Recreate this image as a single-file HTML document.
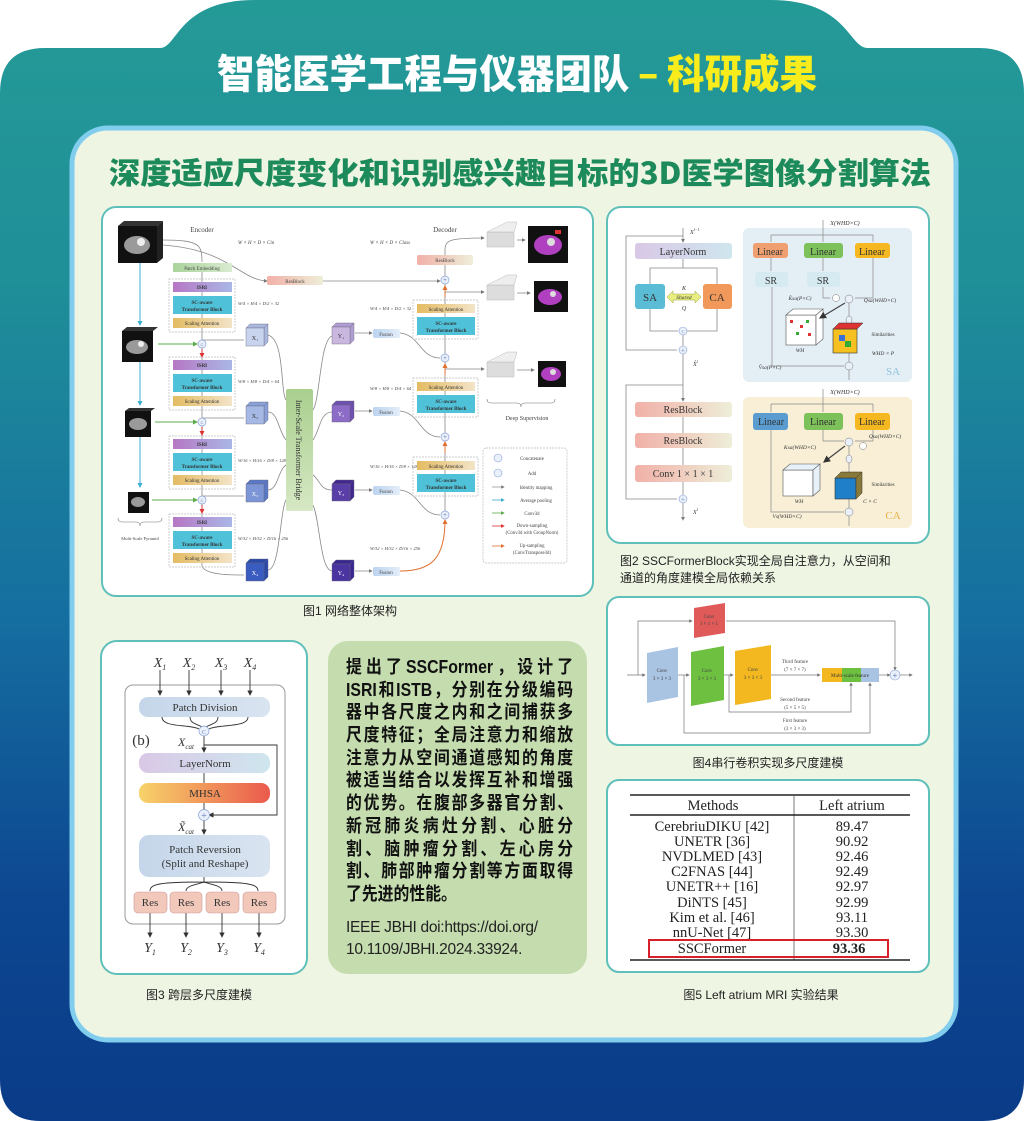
<!DOCTYPE html>
<html><head><meta charset="utf-8"><style>
html,body{margin:0;padding:0;background:#fff;}
body{width:1024px;height:1121px;position:relative;overflow:hidden;font-family:"Liberation Sans","Noto Sans CJK SC",sans-serif;}
.abs{position:absolute;}
.para div{height:22.7px;line-height:22.7px;text-align:justify;text-align-last:justify;white-space:nowrap;}
</style></head><body>
<svg class="abs" style="left:0;top:0" width="1024" height="1121" viewBox="0 0 1024 1121" xmlns="http://www.w3.org/2000/svg">
<defs>
<linearGradient id="bg" x1="0" y1="0" x2="0" y2="1">
<stop offset="0" stop-color="#249a97"/><stop offset="0.25" stop-color="#1f8f98"/>
<stop offset="0.55" stop-color="#156ea0"/><stop offset="0.8" stop-color="#0d4791"/><stop offset="1" stop-color="#0a3b88"/>
</linearGradient>
<linearGradient id="ln" x1="0" x2="1"><stop offset="0" stop-color="#d9c8e6"/><stop offset="1" stop-color="#cfe6ee"/></linearGradient>
<linearGradient id="rb" x1="0" x2="1"><stop offset="0" stop-color="#f1b0a8"/><stop offset="1" stop-color="#eeeed8"/></linearGradient>
<linearGradient id="mh" x1="0" x2="1"><stop offset="0" stop-color="#f7d36a"/><stop offset="1" stop-color="#ea5a4c"/></linearGradient>
<linearGradient id="isri" x1="0" x2="1"><stop offset="0" stop-color="#b777c4"/><stop offset="1" stop-color="#a9b7e6"/></linearGradient>
<linearGradient id="br" x1="0" x2="0" y1="0" y2="1"><stop offset="0" stop-color="#a9cf8e"/><stop offset="1" stop-color="#d6e8c4"/></linearGradient>
<linearGradient id="pe" x1="0" x2="1"><stop offset="0" stop-color="#a9d39a"/><stop offset="1" stop-color="#d9ecd0"/></linearGradient>
<linearGradient id="sa" x1="0" x2="1"><stop offset="0" stop-color="#e3bb62"/><stop offset="1" stop-color="#f3e4c8"/></linearGradient>
<linearGradient id="fu" x1="0" x2="1"><stop offset="0" stop-color="#bcd3ef"/><stop offset="1" stop-color="#e3eef9"/></linearGradient>
<linearGradient id="pr" x1="0" x2="1"><stop offset="0" stop-color="#c5d6ea"/><stop offset="1" stop-color="#d9e4f0"/></linearGradient>
<marker id="ar" markerWidth="5" markerHeight="5" refX="4" refY="2.5" orient="auto"><path d="M0,0 L5,2.5 L0,5z" fill="#777"/></marker>
<marker id="arr" markerWidth="5" markerHeight="5" refX="4" refY="2.5" orient="auto"><path d="M0,0 L5,2.5 L0,5z" fill="#d33"/></marker>
<marker id="arg" markerWidth="5" markerHeight="5" refX="4" refY="2.5" orient="auto"><path d="M0,0 L5,2.5 L0,5z" fill="#5aad4a"/></marker>
<marker id="arc" markerWidth="5" markerHeight="5" refX="4" refY="2.5" orient="auto"><path d="M0,0 L5,2.5 L0,5z" fill="#3aaed0"/></marker>
<marker id="aro" markerWidth="5" markerHeight="5" refX="4" refY="2.5" orient="auto"><path d="M0,0 L5,2.5 L0,5z" fill="#e07030"/></marker>
<marker id="ark" markerWidth="6" markerHeight="6" refX="5" refY="3" orient="auto"><path d="M0,0 L6,3 L0,6z" fill="#333"/></marker>
</defs>
<path d="M0,93 Q0,48 45,48 L160,48 C178,48 178,0 255,0 L770,0 C848,0 848,48 868,48 L979,48 Q1024,48 1024,93 L1024,1080 Q1024,1121 983,1121 L41,1121 Q0,1121 0,1080 Z" fill="url(#bg)"/>
<text x="517" y="88" text-anchor="middle" font-family="Noto Sans CJK SC,sans-serif" font-weight="900" font-size="40" fill="#fff" textLength="600" lengthAdjust="spacingAndGlyphs">智能医学工程与仪器团队 <tspan fill="#f8ec1c">– 科研成果</tspan></text>
<rect x="72" y="128" width="884" height="912" rx="36" fill="#eef5e3" stroke="#80cdee" stroke-width="5"/>
<text x="520" y="184" text-anchor="middle" font-family="Noto Sans CJK SC,sans-serif" font-weight="900" font-size="30" fill="#1d8a5c" textLength="822" lengthAdjust="spacingAndGlyphs">深度适应尺度变化和识别感兴趣目标的3D医学图像分割算法</text>

<!-- FIG1 -->
<rect x="102" y="207" width="491" height="389" rx="14" fill="#fff" stroke="#5fbfba" stroke-width="2"/>
<g font-family="Liberation Serif,serif" font-size="6" fill="#444">
<text x="202" y="232" text-anchor="middle" font-size="7">Encoder</text>
<text x="445" y="232" text-anchor="middle" font-size="7">Decoder</text>
<text x="238" y="244" font-style="italic" font-size="5">W × H × D × Cin</text>
<text x="370" y="244" font-style="italic" font-size="5">W × H × D × Class</text>
</g>
<g fill="none" stroke="#888" stroke-width="0.8">
<path d="M163,240 C200,240 202,245 202,262"/>
<path d="M202,272 L202,566"/>
<path d="M163,245 C230,250 240,280 267,281" marker-end="url(#ar)"/>
<path d="M323,281 L440,281" marker-end="url(#ar)"/>
<path d="M202,340 L244,340"/><path d="M202,418 L244,418"/><path d="M202,496 L244,496"/>
<path d="M202,566 C205,575 230,575 244,575"/>
<path d="M268,335 C285,340 280,390 286,400"/><path d="M268,412 C278,412 278,430 286,440"/>
<path d="M268,490 C278,490 278,470 286,465"/><path d="M268,570 C280,570 280,510 286,500"/>
<path d="M313,410 C320,400 320,340 332,336"/><path d="M313,440 C320,430 320,412 332,412"/>
<path d="M313,475 C320,480 320,490 332,490"/><path d="M313,505 C320,520 320,570 332,571"/>
<path d="M355,333 L372,333" marker-end="url(#ar)"/><path d="M355,411 L372,411" marker-end="url(#ar)"/>
<path d="M355,490 L372,490" marker-end="url(#ar)"/><path d="M355,571 L372,571" marker-end="url(#ar)"/>
<path d="M400,333 C420,335 420,358 440,358"/><path d="M400,411 C420,413 420,437 440,437"/>
<path d="M400,490 C420,492 420,515 440,515"/>
<path d="M445,515 L445,250"/>
<path d="M445,250 C445,240 450,238 484,238" marker-end="url(#ar)"/>
<path d="M445,292 L484,292" marker-end="url(#ar)"/><path d="M445,369 L484,369" marker-end="url(#ar)"/>
<path d="M517,240 L525,240" marker-end="url(#ar)"/><path d="M517,293 L530,293" marker-end="url(#ar)"/><path d="M517,370 L534,370" marker-end="url(#ar)"/>
</g>
<g stroke="#e07030" stroke-width="1" fill="none">
<path d="M400,571 C430,571 445,560 445,520" marker-end="url(#aro)"/>
<path d="M445,453 L445,442" marker-end="url(#aro)"/><path d="M445,375 L445,364" marker-end="url(#aro)"/><path d="M445,297 L445,286" marker-end="url(#aro)"/>
</g>
<g stroke="#3aaed0" stroke-width="1" fill="none">
<path d="M140,262 L140,325" marker-end="url(#arc)"/><path d="M140,362 L140,405" marker-end="url(#arc)"/><path d="M140,437 L140,487" marker-end="url(#arc)"/>
</g>
<g stroke="#5aad4a" stroke-width="1" fill="none">
<path d="M158,344 L197,344" marker-end="url(#arg)"/><path d="M155,422 L197,422" marker-end="url(#arg)"/><path d="M152,500 L197,500" marker-end="url(#arg)"/>
</g>
<g stroke="#d33" stroke-width="1"><path d="M202,349 L202,357" marker-end="url(#arr)"/><path d="M202,427 L202,435" marker-end="url(#arr)"/><path d="M202,505 L202,513" marker-end="url(#arr)"/></g>
<g>
<path d="M118,226 L124,221 L163,221 L157,226z" fill="#333"/><path d="M157,226 L163,221 L163,258 L157,263z" fill="#222"/>
<rect x="118" y="226" width="39" height="37" fill="#111"/><ellipse cx="137" cy="245" rx="13" ry="9" fill="#9a9a9a"/><circle cx="141" cy="242" r="4" fill="#eee"/>
<path d="M122,331 L127,327 L158,327 L153,331z" fill="#333"/><rect x="122" y="331" width="31" height="31" fill="#111"/><ellipse cx="137" cy="347" rx="11" ry="7" fill="#9a9a9a"/><circle cx="141" cy="344" r="3" fill="#eee"/>
<path d="M125,411 L129,408 L155,408 L151,411z" fill="#333"/><rect x="125" y="411" width="26" height="26" fill="#111"/><ellipse cx="138" cy="424" rx="9" ry="6" fill="#9a9a9a"/>
<rect x="128" y="492" width="21" height="21" fill="#111"/><ellipse cx="138" cy="502" rx="7" ry="5" fill="#9a9a9a"/>
<path d="M118,518 q0,4 4,4 l14,0 q4,0 4,4 q0,-4 4,-4 l14,0 q4,0 4,-4" fill="none" stroke="#777" stroke-width="0.6"/>
<text x="140" y="540" text-anchor="middle" font-size="4.5" font-family="Liberation Serif,serif" fill="#444">Multi-Scale Pyramid</text>
</g>
<rect x="173" y="263" width="59" height="9" rx="1" fill="url(#pe)"/><text x="202" y="270" text-anchor="middle" font-size="5" font-family="Liberation Serif,serif" fill="#444">Patch Embedding</text>
<g font-family="Liberation Serif,serif" font-size="5" font-weight="bold" text-anchor="middle" fill="#333">
<g id="eg"><rect x="169" y="279" width="66" height="53" fill="none" stroke="#bbb" stroke-dasharray="2,1" stroke-width="0.7"/>
<rect x="173" y="282" width="59" height="10" fill="url(#isri)"/><text x="202" y="289">ISRI</text>
<rect x="173" y="296" width="59" height="18" fill="#4fc1d8"/><text x="202" y="304">SC-aware</text><text x="202" y="311">Transformer Block</text>
<rect x="173" y="318" width="59" height="10" fill="url(#sa)"/><text x="202" y="325" font-weight="normal">Scaling Attention</text></g>
<use href="#eg" y="78"/><use href="#eg" y="157"/><use href="#eg" y="235"/>
</g>
<g font-family="Liberation Serif,serif" font-size="4.5" font-style="italic" fill="#444">
<text x="238" y="305">W/4 × H/4 × D/2 × 32</text><text x="238" y="383">W/8 × H/8 × D/4 × 64</text>
<text x="238" y="462">W/16 × H/16 × D/8 × 128</text><text x="238" y="540">W/32 × H/32 × D/16 × 256</text>
<text x="370" y="310">W/4 × H/4 × D/2 × 32</text><text x="370" y="390">W/8 × H/8 × D/4 × 64</text>
<text x="370" y="468">W/16 × H/16 × D/8 × 128</text><text x="370" y="550">W/32 × H/32 × D/16 × 256</text>
</g>
<g fill="#eaf0fa" stroke="#8aa2d6" stroke-width="0.7">
<circle cx="202" cy="344" r="4"/><circle cx="202" cy="422" r="4"/><circle cx="202" cy="500" r="4"/>
</g>
<g font-size="4" fill="#6a80c0" text-anchor="middle"><text x="202" y="346">C</text><text x="202" y="424">C</text><text x="202" y="502">C</text></g>
<g stroke="#667" stroke-width="0.4" font-family="Liberation Serif,serif" font-size="6" text-anchor="middle">
<path d="M246,328 L250,324 L268,324 L264,328z M264,328 L268,324 L268,342 L264,346z" fill="#aab8e0"/><rect x="246" y="328" width="18" height="18" fill="#c8d4ee"/><text x="255" y="340" stroke="none" fill="#333">X₁</text>
<path d="M246,406 L250,402 L268,402 L264,406z M264,406 L268,402 L268,420 L264,424z" fill="#8aa0d8"/><rect x="246" y="406" width="18" height="18" fill="#a6b8e4"/><text x="255" y="418" stroke="none" fill="#333">X₂</text>
<path d="M246,484 L250,480 L268,480 L264,484z M264,484 L268,480 L268,498 L264,502z" fill="#5a78c8"/><rect x="246" y="484" width="18" height="18" fill="#7c95d6"/><text x="255" y="496" stroke="none" fill="#fff">X₃</text>
<path d="M246,563 L250,559 L268,559 L264,563z M264,563 L268,559 L268,577 L264,581z" fill="#2a4aaa"/><rect x="246" y="563" width="18" height="18" fill="#3a5bbf"/><text x="255" y="575" stroke="none" fill="#fff">X₄</text>
<path d="M332,327 L336,323 L354,323 L350,327z M350,327 L354,323 L354,340 L350,344z" fill="#b09dd4"/><rect x="332" y="327" width="18" height="17" fill="#c9b7e0"/><text x="341" y="338" stroke="none" fill="#333">Y₁</text>
<path d="M332,405 L336,401 L354,401 L350,405z M350,405 L354,401 L354,418 L350,422z" fill="#6e50b0"/><rect x="332" y="405" width="18" height="17" fill="#8c6cc7"/><text x="341" y="416" stroke="none" fill="#fff">Y₂</text>
<path d="M332,484 L336,480 L354,480 L350,484z M350,484 L354,480 L354,497 L350,501z" fill="#42288e"/><rect x="332" y="484" width="18" height="17" fill="#5a3ea8"/><text x="341" y="495" stroke="none" fill="#fff">Y₃</text>
<path d="M332,564 L336,560 L354,560 L350,564z M350,564 L354,560 L354,577 L350,581z" fill="#3a2890"/><rect x="332" y="564" width="18" height="17" fill="#4a34a0"/><text x="341" y="575" stroke="none" fill="#fff">Y₄</text>
</g>
<rect x="286" y="389" width="27" height="122" rx="2" fill="url(#br)"/>
<text transform="translate(296,450) rotate(90)" text-anchor="middle" font-family="Liberation Serif,serif" font-size="8" fill="#333">Inter-Scale Transformer Bridge</text>
<rect x="267" y="276" width="56" height="9" rx="2" fill="url(#rb)"/><text x="295" y="283" text-anchor="middle" font-size="5" font-family="Liberation Serif,serif" fill="#444">ResBlock</text>
<rect x="417" y="255" width="56" height="10" rx="2" fill="url(#rb)"/><text x="445" y="262" text-anchor="middle" font-size="5" font-family="Liberation Serif,serif" fill="#444">ResBlock</text>
<g font-family="Liberation Serif,serif" font-size="5" text-anchor="middle" fill="#444">
<rect x="373" y="329" width="27" height="9" rx="2" fill="url(#fu)"/><text x="386" y="336">Fusion</text>
<rect x="373" y="407" width="27" height="9" rx="2" fill="url(#fu)"/><text x="386" y="414">Fusion</text>
<rect x="373" y="486" width="27" height="9" rx="2" fill="url(#fu)"/><text x="386" y="493">Fusion</text>
<rect x="373" y="567" width="27" height="9" rx="2" fill="url(#fu)"/><text x="386" y="574">Fusion</text>
</g>
<g font-family="Liberation Serif,serif" font-size="5" font-weight="bold" text-anchor="middle" fill="#333">
<g id="dg"><rect x="413" y="300" width="65" height="39" fill="none" stroke="#bbb" stroke-dasharray="2,1" stroke-width="0.7"/>
<rect x="417" y="304" width="58" height="9" fill="url(#sa)"/><text x="446" y="311" font-weight="normal">Scaling Attention</text>
<rect x="417" y="317" width="58" height="18" fill="#4fc1d8"/><text x="446" y="325">SC-aware</text><text x="446" y="332">Transformer Block</text></g>
<use href="#dg" y="78"/><use href="#dg" y="157"/>
</g>
<g fill="#eaf0fa" stroke="#8aa2d6" stroke-width="0.7"><circle cx="445" cy="280" r="4"/><circle cx="445" cy="358" r="4"/><circle cx="445" cy="437" r="4"/><circle cx="445" cy="515" r="4"/></g>
<g font-size="6" fill="#6a80c0" text-anchor="middle"><text x="445" y="282">+</text><text x="445" y="360">+</text><text x="445" y="439">+</text><text x="445" y="517">+</text></g>
<g fill="#ddd" stroke="#bbb" stroke-width="0.5">
<path d="M487,232 L514,232 L514,247 L487,247z"/><path d="M487,232 L507,222 L517,222 L514,232z" fill="#eee"/>
<path d="M487,285 L514,285 L514,300 L487,300z"/><path d="M487,285 L507,275 L517,275 L514,285z" fill="#eee"/>
<path d="M487,362 L514,362 L514,377 L487,377z"/><path d="M487,362 L507,352 L517,352 L514,362z" fill="#eee"/>
</g>
<g>
<rect x="528" y="226" width="40" height="37" fill="#111"/><ellipse cx="548" cy="245" rx="14" ry="10" fill="#b040c0"/><circle cx="551" cy="242" r="4" fill="#ddd"/><rect x="555" y="230" width="6" height="4" fill="#d33"/>
<rect x="534" y="281" width="34" height="31" fill="#111"/><ellipse cx="550" cy="297" rx="12" ry="8" fill="#b040c0"/><circle cx="553" cy="294" r="3" fill="#ddd"/>
<rect x="538" y="361" width="28" height="26" fill="#111"/><ellipse cx="551" cy="374" rx="10" ry="7" fill="#b040c0"/><circle cx="553" cy="372" r="3" fill="#ddd"/>
<path d="M487,399 q0,4 4,4 l26,0 q4,0 4,4 q0,-4 4,-4 l26,0 q4,0 4,-4" fill="none" stroke="#777" stroke-width="0.6"/>
<text x="527" y="420" text-anchor="middle" font-family="Liberation Serif,serif" font-size="6" fill="#444">Deep Supervision</text>
</g>
<rect x="483" y="448" width="84" height="115" rx="3" fill="none" stroke="#bbb" stroke-dasharray="2,1" stroke-width="0.7"/>
<g font-family="Liberation Serif,serif" font-size="4.8" fill="#444" text-anchor="middle">
<circle cx="498" cy="458" r="4" fill="#eaf0fa" stroke="#8aa2d6" stroke-width="0.6"/><text x="532" y="460">Concatenate</text>
<circle cx="498" cy="473" r="4" fill="#eaf0fa" stroke="#8aa2d6" stroke-width="0.6"/><text x="532" y="475">Add</text>
<line x1="492" y1="487" x2="504" y2="487" stroke="#888" stroke-width="0.7" marker-end="url(#ar)"/><text x="536" y="489">Identity mapping</text>
<line x1="492" y1="500" x2="504" y2="500" stroke="#3aaed0" stroke-width="0.8" marker-end="url(#arc)"/><text x="536" y="502">Average pooling</text>
<line x1="492" y1="513" x2="504" y2="513" stroke="#5aad4a" stroke-width="0.8" marker-end="url(#arg)"/><text x="532" y="515">Conv3d</text>
<line x1="492" y1="526" x2="504" y2="526" stroke="#d33" stroke-width="0.8" marker-end="url(#arr)"/><text x="532" y="527">Down-sampling</text><text x="532" y="534">(Conv3d with GroupNorm)</text>
<line x1="492" y1="546" x2="504" y2="546" stroke="#e07030" stroke-width="0.8" marker-end="url(#aro)"/><text x="532" y="547">Up-sampling</text><text x="532" y="554">(ConvTranspose3d)</text>
</g>
<text x="350" y="615" text-anchor="middle" font-size="12" fill="#222" font-family="Liberation Sans,Noto Sans CJK SC,sans-serif">图1 网络整体架构</text>

<!-- FIG2 -->
<rect x="607" y="207" width="322" height="336" rx="14" fill="#fff" stroke="#5fbfba" stroke-width="2"/>
<g fill="none" stroke="#888" stroke-width="0.8">
<path d="M683,228 L683,242" marker-end="url(#ar)"/>
<path d="M683,236 L626,236 L626,350 L677,350"/>
<path d="M683,259 L683,268 L650,268 L650,284"/><path d="M683,268 L717,268 L717,284"/>
<path d="M650,309 L650,331 L678,331"/><path d="M717,309 L717,331 L687,331"/>
<path d="M683,335 L683,346"/><path d="M683,354 L683,401" marker-end="url(#ar)"/>
<path d="M683,385 L626,385 L626,499 L677,499"/>
<path d="M683,417 L683,433"/><path d="M683,448 L683,465"/><path d="M683,482 L683,495"/>
<path d="M683,503 L683,520" marker-end="url(#ar)"/>
</g>
<g font-family="Liberation Serif,serif" fill="#333">
<text x="690" y="234" font-size="6" font-style="italic">X<tspan font-size="4" dy="-3">l−1</tspan></text>
<rect x="635" y="243" width="97" height="16" rx="3" fill="url(#ln)"/><text x="683" y="255" font-size="10" text-anchor="middle">LayerNorm</text>
<rect x="635" y="284" width="30" height="25" rx="3" fill="#5bbcd6"/><text x="650" y="301" font-size="11" text-anchor="middle">SA</text>
<rect x="703" y="284" width="29" height="25" rx="3" fill="#f0995a"/><text x="717" y="301" font-size="11" text-anchor="middle">CA</text>
<path d="M667,297 L673,291 L673,294 L695,294 L695,291 L701,297 L695,303 L695,300 L673,300 L673,303z" fill="#e8ee80" stroke="#9aa040" stroke-width="0.5"/>
<text x="684" y="299" font-size="5.5" font-style="italic" text-anchor="middle">Shared</text>
<text x="684" y="290" font-size="6" font-style="italic" text-anchor="middle">K</text><text x="684" y="310" font-size="6" font-style="italic" text-anchor="middle">Q</text>
<circle cx="683" cy="331" r="4" fill="#eaf0fa" stroke="#8aa2d6" stroke-width="0.6"/><text x="683" y="333" font-size="4.5" text-anchor="middle" fill="#6a80c0">C</text>
<circle cx="683" cy="350" r="4" fill="#eaf0fa" stroke="#8aa2d6" stroke-width="0.6"/><text x="683" y="352.5" font-size="7" text-anchor="middle" fill="#6a80c0">+</text>
<text x="693" y="366" font-size="6" font-style="italic">X̂<tspan font-size="4" dy="-3">l</tspan></text>
<rect x="635" y="402" width="97" height="15" rx="3" fill="url(#rb)"/><text x="683" y="413" font-size="10" text-anchor="middle">ResBlock</text>
<rect x="635" y="433" width="97" height="15" rx="3" fill="url(#rb)"/><text x="683" y="444" font-size="10" text-anchor="middle">ResBlock</text>
<rect x="635" y="465" width="97" height="17" rx="3" fill="url(#rb)"/><text x="683" y="477" font-size="10" text-anchor="middle">Conv 1 × 1 × 1</text>
<circle cx="683" cy="499" r="4" fill="#eaf0fa" stroke="#8aa2d6" stroke-width="0.6"/><text x="683" y="501.5" font-size="7" text-anchor="middle" fill="#6a80c0">+</text>
<text x="693" y="514" font-size="6" font-style="italic">X<tspan font-size="4" dy="-3">l</tspan></text>
</g>
<rect x="743" y="228" width="169" height="154" rx="6" fill="#e4eef5"/>
<rect x="743" y="397" width="169" height="131" rx="6" fill="#f8efd6"/>
<g fill="none" stroke="#888" stroke-width="0.7">
<path d="M823,220 L823,235 M771,235 L873,235 M771,235 L771,242 M823,235 L823,242 M873,235 L873,242"/>
<path d="M771,258 L771,271 M823,258 L823,271 M873,258 L873,298 L855,298"/>
<path d="M823,287 L823,298 L830,298 M772,287 L772,366 L844,366"/>
<path d="M849,303 L849,316 M849,324 L849,362 M849,370 L849,380"/>
<path d="M823,389 L823,404 M771,404 L873,404 M771,404 L771,412 M823,404 L823,412 M873,404 L873,412"/>
<path d="M823,430 L823,441 L844,441 M873,430 L873,441 L855,441 M771,430 L771,512 L844,512"/>
<path d="M849,446 L849,455 M849,463 L849,508 M849,516 L849,526"/>
</g>
<g font-family="Liberation Serif,serif" fill="#333" text-anchor="middle">
<text x="845" y="225" font-size="6" font-style="italic">X(WHD×C)</text>
<rect x="753" y="243" width="35" height="15" rx="3" fill="#f0a070"/><text x="770" y="255" font-size="10">Linear</text>
<rect x="804" y="243" width="39" height="15" rx="3" fill="#7cc15a"/><text x="823" y="255" font-size="10">Linear</text>
<rect x="855" y="243" width="35" height="15" rx="3" fill="#f5b820"/><text x="872" y="255" font-size="10">Linear</text>
<rect x="755" y="272" width="33" height="15" rx="3" fill="#d6eaf2"/><text x="771" y="284" font-size="10">SR</text>
<rect x="807" y="272" width="33" height="15" rx="3" fill="#d6eaf2"/><text x="823" y="284" font-size="10">SR</text>
<circle cx="849" cy="299" r="4" fill="#eaf0fa" stroke="#777" stroke-width="0.5"/>
<circle cx="836" cy="298" r="3.5" fill="#fff" stroke="#777" stroke-width="0.5"/>
<ellipse cx="849" cy="320" rx="3" ry="4" fill="#eaf0fa" stroke="#777" stroke-width="0.5"/>
<circle cx="849" cy="366" r="4" fill="#eaf0fa" stroke="#777" stroke-width="0.5"/>
<text x="800" y="300" font-size="5.5" font-style="italic">K̂sa(P×C)</text>
<text x="880" y="302" font-size="5.5" font-style="italic">Qsa(WHD×C)</text>
<text x="770" y="369" font-size="5.5" font-style="italic">V̂sa(P×C)</text>
<text x="893" y="375" font-size="11" fill="#8fc3dd">SA</text>
<rect x="786" y="315" width="30" height="30" fill="#fff" stroke="#555" stroke-width="0.6"/>
<path d="M786,315 L793,309 L823,309 L816,315z M816,315 L823,309 L823,339 L816,345z" fill="#fff" stroke="#555" stroke-width="0.6"/>
<g fill="#d33"><rect x="790" y="320" width="3" height="3"/><rect x="800" y="325" width="3" height="3"/><rect x="808" y="333" width="3" height="3"/></g>
<g fill="#3a3"><rect x="796" y="332" width="3" height="3"/><rect x="806" y="320" width="3" height="3"/></g>
<text x="800" y="352" font-size="5.5" font-style="italic">WH</text>
<rect x="833" y="329" width="24" height="24" fill="#f5c020" stroke="#333" stroke-width="0.6"/>
<path d="M833,329 L839,323 L863,323 L857,329z" fill="#d33" stroke="#333" stroke-width="0.5"/>
<rect x="839" y="335" width="6" height="6" fill="#3a6fd8"/><rect x="845" y="341" width="6" height="6" fill="#3a3"/>
<text x="883" y="336" font-size="5">Similarities</text>
<text x="883" y="355" font-size="5.5" font-style="italic">WHD × P</text>
<line x1="845" y1="303" x2="820" y2="318" stroke="#444" stroke-width="1.2" marker-end="url(#ark)"/>
<text x="845" y="394" font-size="6" font-style="italic">X(WHD×C)</text>
<rect x="753" y="413" width="35" height="17" rx="3" fill="#5a9bd0"/><text x="771" y="425" font-size="10">Linear</text>
<rect x="804" y="413" width="39" height="17" rx="3" fill="#7cc15a"/><text x="823" y="425" font-size="10">Linear</text>
<rect x="855" y="413" width="35" height="17" rx="3" fill="#f5b820"/><text x="872" y="425" font-size="10">Linear</text>
<circle cx="849" cy="442" r="4" fill="#eaf0fa" stroke="#777" stroke-width="0.5"/>
<circle cx="863" cy="446" r="3.5" fill="#fff" stroke="#777" stroke-width="0.5"/>
<ellipse cx="849" cy="459" rx="3" ry="4" fill="#eaf0fa" stroke="#777" stroke-width="0.5"/>
<circle cx="849" cy="512" r="4" fill="#eaf0fa" stroke="#777" stroke-width="0.5"/>
<text x="800" y="449" font-size="5.5" font-style="italic">Ksa(WHD×C)</text>
<text x="885" y="438" font-size="5.5" font-style="italic">Qsa(WHD×C)</text>
<text x="787" y="518" font-size="5.5" font-style="italic">Vs(WHD×C)</text>
<text x="893" y="519" font-size="11" fill="#e8b24a">CA</text>
<rect x="783" y="470" width="30" height="26" fill="#fff" stroke="#555" stroke-width="0.6"/>
<path d="M783,470 L790,464 L820,464 L813,470z M813,470 L820,464 L820,490 L813,496z" fill="#e8f1f8" stroke="#555" stroke-width="0.6"/>
<text x="799" y="503" font-size="5.5" font-style="italic">WH</text>
<rect x="835" y="478" width="21" height="21" fill="#1f7fc8" stroke="#333" stroke-width="0.6"/>
<path d="M835,478 L841,472 L862,472 L856,478z M856,478 L862,472 L862,493 L856,499z" fill="#8a7a3a" stroke="#333" stroke-width="0.5"/>
<text x="883" y="486" font-size="5">Similarities</text>
<text x="870" y="503" font-size="5.5" font-style="italic">C × C</text>
<line x1="845" y1="446" x2="824" y2="462" stroke="#444" stroke-width="1.2" marker-end="url(#ark)"/>
</g>
<g font-size="12" fill="#222" font-family="Liberation Sans,Noto Sans CJK SC,sans-serif">
<text x="620" y="565">图2 SSCFormerBlock实现全局自注意力，从空间和</text>
<text x="620" y="582">通道的角度建模全局依赖关系</text>
</g>

<!-- FIG4 -->
<rect x="607" y="597" width="322" height="148" rx="12" fill="#fff" stroke="#5fbfba" stroke-width="2"/>
<g fill="none" stroke="#777" stroke-width="0.7">
<path d="M627,675 L645,675" marker-end="url(#ar)"/>
<path d="M638,675 L638,621 L692,621" marker-end="url(#ar)"/><path d="M726,621 L895,621 L895,670" marker-end="url(#ar)"/>
<path d="M678,675 L689,675" marker-end="url(#ar)"/><path d="M724,675 L733,675" marker-end="url(#ar)"/>
<path d="M771,675 L820,675" marker-end="url(#ar)"/>
<path d="M879,675 L890,675" marker-end="url(#ar)"/><path d="M900,675 L912,675" marker-end="url(#ar)"/>
<path d="M729,675 L729,712 L851,712 L851,683" marker-end="url(#ar)"/>
<path d="M684,675 L684,733 L870,733 L870,683" marker-end="url(#ar)"/>
</g>
<polygon points="694,608 725,603 725,633 694,638" fill="#e05a5a"/>
<polygon points="647,653 678,647 678,697 647,703" fill="#a9c3e3"/>
<polygon points="691,652 724,646 724,700 691,706" fill="#6ec040"/>
<polygon points="735,651 771,645 771,699 735,705" fill="#f3b820"/>
<g font-family="Liberation Serif,serif" font-size="5" fill="#444" text-anchor="middle">
<text x="709" y="618">Conv</text><text x="709" y="625">1 × 1 × 1</text>
<text x="662" y="672">Conv</text><text x="662" y="680">3 × 3 × 3</text>
<text x="707" y="672">Conv</text><text x="707" y="680">3 × 3 × 3</text>
<text x="753" y="671">Conv</text><text x="753" y="679">3 × 3 × 3</text>
<text x="795" y="663">Third feature</text><text x="795" y="671">(7 × 7 × 7)</text>
<text x="795" y="701">Second feature</text><text x="795" y="709">(5 × 5 × 5)</text>
<text x="795" y="722">First feature</text><text x="795" y="730">(3 × 3 × 3)</text>
</g>
<rect x="822" y="668" width="20" height="14" fill="#f3b820"/><rect x="842" y="668" width="19" height="14" fill="#6ec040"/><rect x="861" y="668" width="18" height="14" fill="#a9c3e3"/>
<text x="850" y="677" text-anchor="middle" font-family="Liberation Serif,serif" font-size="5" fill="#333">Multi-scale feature</text>
<circle cx="895" cy="675" r="5" fill="#eaf0fa" stroke="#8aa2d6" stroke-width="0.6"/><text x="895" y="678" font-size="8" text-anchor="middle" fill="#6a80c0">+</text>
<text x="768" y="767" text-anchor="middle" font-size="12" fill="#222" font-family="Liberation Sans,Noto Sans CJK SC,sans-serif">图4串行卷积实现多尺度建模</text>

<!-- FIG5 -->
<rect x="607" y="780" width="322" height="192" rx="12" fill="#fff" stroke="#5fbfba" stroke-width="2"/>
<g font-family="Liberation Serif,serif" font-size="14.5" fill="#222" text-anchor="middle">
<line x1="630" y1="795" x2="910" y2="795" stroke="#222" stroke-width="1.5"/>
<line x1="630" y1="815" x2="910" y2="815" stroke="#222" stroke-width="1.5"/>
<line x1="630" y1="960" x2="910" y2="960" stroke="#222" stroke-width="1.5"/>
<line x1="794" y1="796" x2="794" y2="960" stroke="#222" stroke-width="0.6"/>
<text x="713" y="810">Methods</text><text x="852" y="810">Left atrium</text>
<text x="712" y="831">CerebriuDIKU [42]</text><text x="852" y="831">89.47</text>
<text x="712" y="846">UNETR [36]</text><text x="852" y="846">90.92</text>
<text x="712" y="861">NVDLMED [43]</text><text x="852" y="861">92.46</text>
<text x="712" y="876">C2FNAS [44]</text><text x="852" y="876">92.49</text>
<text x="712" y="891">UNETR++ [16]</text><text x="852" y="891">92.97</text>
<text x="712" y="907">DiNTS [45]</text><text x="852" y="907">92.99</text>
<text x="712" y="922">Kim et al. [46]</text><text x="852" y="922">93.11</text>
<text x="712" y="937">nnU-Net [47]</text><text x="852" y="937">93.30</text>
<text x="712" y="953">SSCFormer</text><text x="849" y="953" font-weight="bold">93.36</text>
<rect x="649" y="940" width="239" height="17" fill="none" stroke="#d6202a" stroke-width="2"/>
</g>
<text x="761" y="999" text-anchor="middle" font-size="12" fill="#222" font-family="Liberation Sans,Noto Sans CJK SC,sans-serif">图5 Left atrium MRI 实验结果</text>

<!-- FIG3 -->
<rect x="101" y="641" width="206" height="333" rx="16" fill="#fff" stroke="#5fbfba" stroke-width="2"/>
<rect x="125" y="685" width="160" height="239" rx="8" fill="none" stroke="#999" stroke-width="1"/>
<g fill="none" stroke="#333" stroke-width="0.9">
<path d="M160,670 L160,695" marker-end="url(#ark)"/><path d="M189,670 L189,695" marker-end="url(#ark)"/>
<path d="M221,670 L221,695" marker-end="url(#ark)"/><path d="M250,670 L250,695" marker-end="url(#ark)"/>
<path d="M162,717 C162,728 190,724 199,729"/><path d="M190,717 C190,724 198,724 202,727"/><path d="M218,717 C218,724 210,724 206,727"/><path d="M248,717 C248,728 218,724 209,729"/>
<path d="M204,735 L204,752" marker-end="url(#ark)"/>
<path d="M204,745 L277,745 L277,815 L209,815" marker-end="url(#ark)"/>
<path d="M204,773 L204,783"/><path d="M204,803 L204,810"/><path d="M204,820 L204,834" marker-end="url(#ark)"/>
<path d="M204,877 L204,883 M150,891 C150,884 160,882 204,882 C248,882 258,884 258,891 M186,891 C186,885 200,884 204,882 C208,884 222,885 222,891"/>
<path d="M150,913 L150,937" marker-end="url(#ark)"/><path d="M186,913 L186,937" marker-end="url(#ark)"/>
<path d="M222,913 L222,937" marker-end="url(#ark)"/><path d="M259,913 L259,937" marker-end="url(#ark)"/>
</g>
<g font-family="Liberation Serif,serif" fill="#333" text-anchor="middle">
<g font-size="14" font-style="italic"><text x="160" y="667">X<tspan font-size="8" dy="3">1</tspan></text><text x="189" y="667">X<tspan font-size="8" dy="3">2</tspan></text><text x="221" y="667">X<tspan font-size="8" dy="3">3</tspan></text><text x="250" y="667">X<tspan font-size="8" dy="3">4</tspan></text></g>
<rect x="139" y="697" width="131" height="20" rx="9" fill="url(#pr)"/><text x="205" y="711" font-size="11">Patch Division</text>
<circle cx="204" cy="731" r="5" fill="#eaf0fa" stroke="#8aa2d6" stroke-width="0.7"/><text x="204" y="734" font-size="6" fill="#6a80c0">C</text>
<text x="141" y="745" font-size="15">(b)</text>
<text x="186" y="746" font-size="12" font-style="italic">X<tspan font-size="7" dy="3">cat</tspan></text>
<rect x="139" y="753" width="131" height="20" rx="9" fill="url(#ln)"/><text x="205" y="767" font-size="11">LayerNorm</text>
<rect x="139" y="783" width="131" height="20" rx="9" fill="url(#mh)"/><text x="205" y="797" font-size="11">MHSA</text>
<circle cx="204" cy="815" r="5.5" fill="#eaf0fa" stroke="#8aa2d6" stroke-width="0.7"/><text x="204" y="819" font-size="10" fill="#6a80c0">+</text>
<text x="186" y="831" font-size="12" font-style="italic">X̃<tspan font-size="7" dy="3">cat</tspan></text>
<rect x="139" y="835" width="131" height="42" rx="10" fill="url(#pr)"/><text x="205" y="853" font-size="11">Patch Reversion</text><text x="205" y="867" font-size="11">(Split and Reshape)</text>
<g font-size="11"><rect x="134" y="892" width="33" height="21" rx="4" fill="#f2c8bb" stroke="#c99" stroke-width="0.6"/><text x="150" y="906">Res</text>
<rect x="170" y="892" width="32" height="21" rx="4" fill="#f2c8bb" stroke="#c99" stroke-width="0.6"/><text x="186" y="906">Res</text>
<rect x="206" y="892" width="33" height="21" rx="4" fill="#f2c8bb" stroke="#c99" stroke-width="0.6"/><text x="222" y="906">Res</text>
<rect x="243" y="892" width="33" height="21" rx="4" fill="#f2c8bb" stroke="#c99" stroke-width="0.6"/><text x="259" y="906">Res</text></g>
<g font-size="14" font-style="italic"><text x="150" y="952">Y<tspan font-size="8" dy="3">1</tspan></text><text x="186" y="952">Y<tspan font-size="8" dy="3">2</tspan></text><text x="222" y="952">Y<tspan font-size="8" dy="3">3</tspan></text><text x="259" y="952">Y<tspan font-size="8" dy="3">4</tspan></text></g>
</g>
<text x="199" y="999" text-anchor="middle" font-size="12" fill="#222" font-family="Liberation Sans,Noto Sans CJK SC,sans-serif">图3 跨层多尺度建模</text>

<rect x="328" y="641" width="259" height="333" rx="20" fill="#c4dcae"/>
</svg>
<div class="abs para" style="left:346px;top:656px;width:258px;transform:scaleX(0.88);transform-origin:0 0;font-family:'Liberation Sans','Noto Sans CJK SC',sans-serif;font-weight:bold;font-size:18px;color:#111;">
<div>提出了SSCFormer，设计了</div>
<div>ISRI和ISTB，分别在分级编码</div>
<div>器中各尺度之内和之间捕获多</div>
<div>尺度特征；全局注意力和缩放</div>
<div>注意力从空间通道感知的角度</div>
<div>被适当结合以发挥互补和增强</div>
<div>的优势。在腹部多器官分割、</div>
<div>新冠肺炎病灶分割、心脏分</div>
<div>割、脑肿瘤分割、左心房分</div>
<div>割、肺部肿瘤分割等方面取得</div>
<div style="text-align-last:left">了先进的性能。</div>
</div>
<div class="abs" style="left:346px;top:917px;width:240px;font-family:'Liberation Sans',sans-serif;font-size:15.5px;line-height:22px;color:#222;letter-spacing:-0.3px;white-space:nowrap;">IEEE JBHI doi:https://doi.org/<br>10.1109/JBHI.2024.33924.</div>
</body></html>
